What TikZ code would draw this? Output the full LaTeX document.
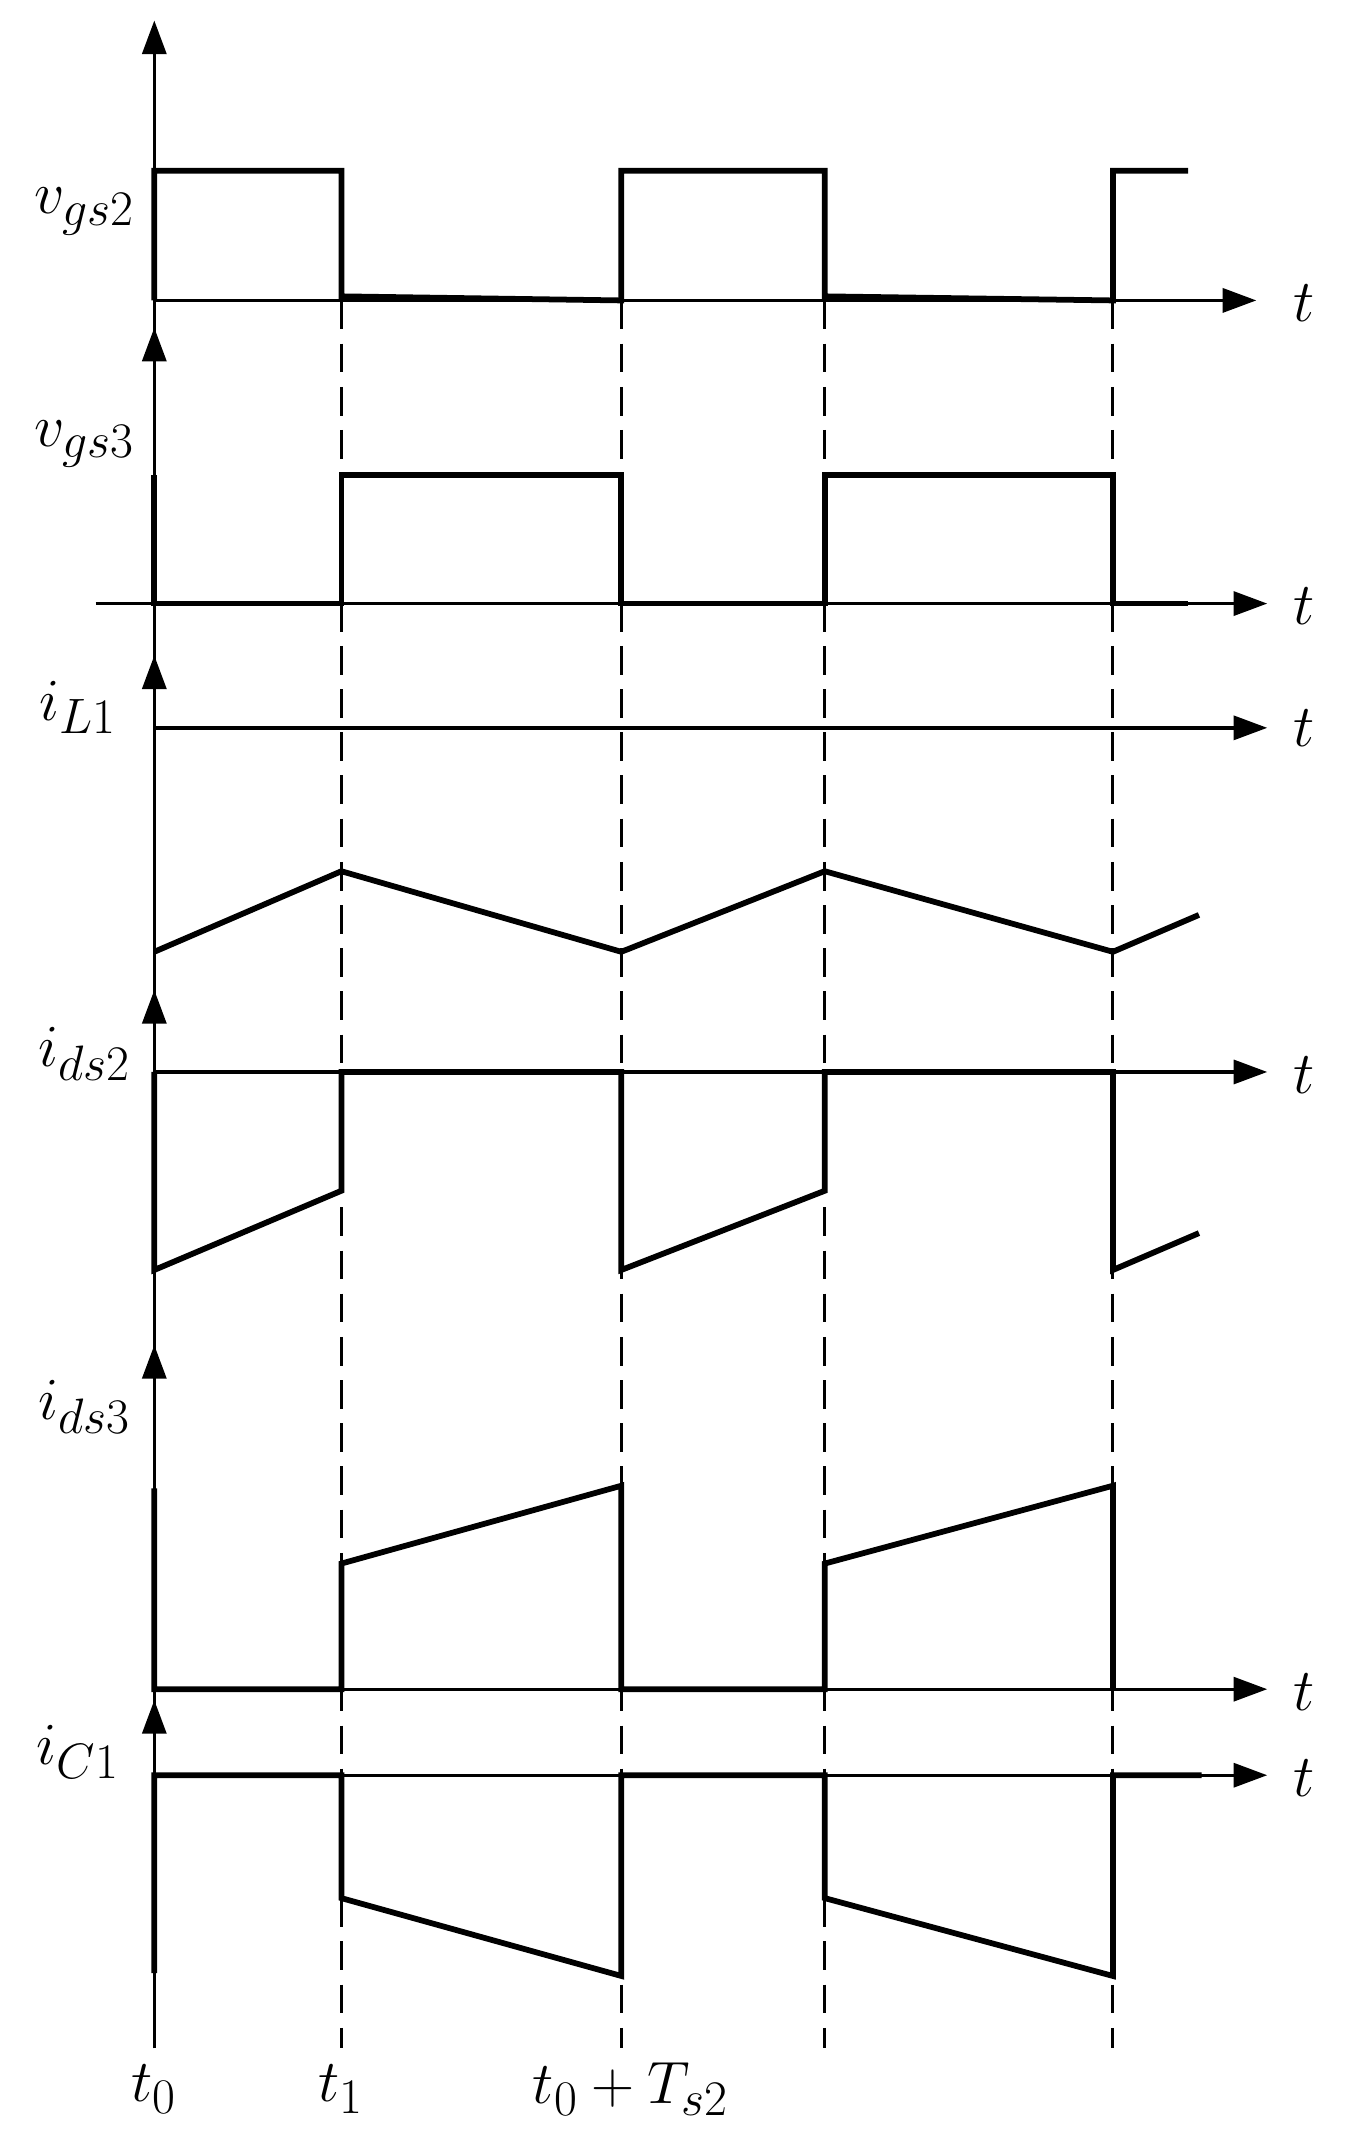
\documentclass[tikz,border=0pt]{standalone}
\usepackage{tikz}
\usetikzlibrary{arrows.meta}
\tikzset{
  axis/.style={line width=1.4pt, -{Triangle[length=14pt,width=10pt]}},
  wave/.style={line width=2.4pt},
  guide/.style={line width=1.2pt, dashed, dash pattern=on 12pt off 6pt},
  lbl/.style={font=\fontsize{30}{34}\selectfont}
}
\begin{document}
\begin{tikzpicture}[x=0.02cm, y=-0.02cm]
      \useasboundingbox (0,0) rectangle (990,1573);
      % axes
      \coordinate (o0) at (113,1500);
      \coordinate (o1) at (113,15);
      \draw[axis] (o0) -- (o1);
      \foreach \y in {240,480,725,985,1245} \draw[axis] (113,\y+30) -- (113,\y);
      \node[lbl] (t1) at (955,222) {$t$};
      \node[lbl] (t2) at (955,444) {$t$};
      \node[lbl] (t3) at (955,533) {$t$};
      \node[lbl] (t4) at (955,787) {$t$};
      \node[lbl] (t5) at (955,1239) {$t$};
      \node[lbl] (t6) at (955,1302) {$t$};
      \draw[axis] (113,220) -- (920,220);
      \draw[axis] (70,442) -- (928,442);
      \draw[axis] (113,533) -- (928,533);
      \draw[axis] (113,785) -- (928,785);
      \draw[axis] (113,1237) -- (928,1237);
      \draw[axis] (113,1300) -- (928,1300);
      % guides
      \foreach \x in {250,455,604,815} \draw[guide] (\x,220) -- (\x,1500);
      % waveforms
      \draw[wave] (113,220) -- (113,125) -- (250,125) -- (250,217) -- (455,220) -- (455,125) -- (604,125) -- (604,217) -- (815,220) -- (815,125) -- (870,125);
      \draw[wave] (113,348) -- (113,442) -- (250,442) -- (250,348) -- (455,348) -- (455,442) -- (604,442) -- (604,348) -- (815,348) -- (815,442) -- (870,442);
      \draw[wave] (113,697) -- (250,638) -- (455,697) -- (604,638) -- (815,697) -- (878,670);
      \draw[wave] (113,785) -- (113,930) -- (250,872) -- (250,785) -- (455,785) -- (455,930) -- (604,872) -- (604,785) -- (815,785) -- (815,930) -- (878,903);
      \draw[wave] (113,1090) -- (113,1237) -- (250,1237) -- (250,1145) -- (455,1088) -- (455,1237) -- (604,1237) -- (604,1145) -- (815,1088) -- (815,1237);
      \draw[wave] (113,1445) -- (113,1300) -- (250,1300) -- (250,1390) -- (455,1447) -- (455,1300) -- (604,1300) -- (604,1390) -- (815,1447) -- (815,1300) -- (880,1300);
      % labels
      \node[lbl] (vgs2) at (62,155) {$v_{gs2}$};
      \node[lbl] (vgs3) at (62,325) {$v_{gs3}$};
      \node[lbl] (iL1) at (57,518) {$i_{L1}$};
      \node[lbl] (ids2) at (62,772) {$i_{ds2}$};
      \node[lbl] (ids3) at (62,1030) {$i_{ds3}$};
      \node[lbl] (iC1) at (57,1283) {$i_{C1}$};
      \node[lbl] (tz) at (113,1530) {$t_0$};
      \node[lbl] (tone) at (250,1530) {$t_1$};
      \node[lbl] (tT) at (462,1530) {$t_0+T_{s2}$};
\end{tikzpicture}
\end{document}
